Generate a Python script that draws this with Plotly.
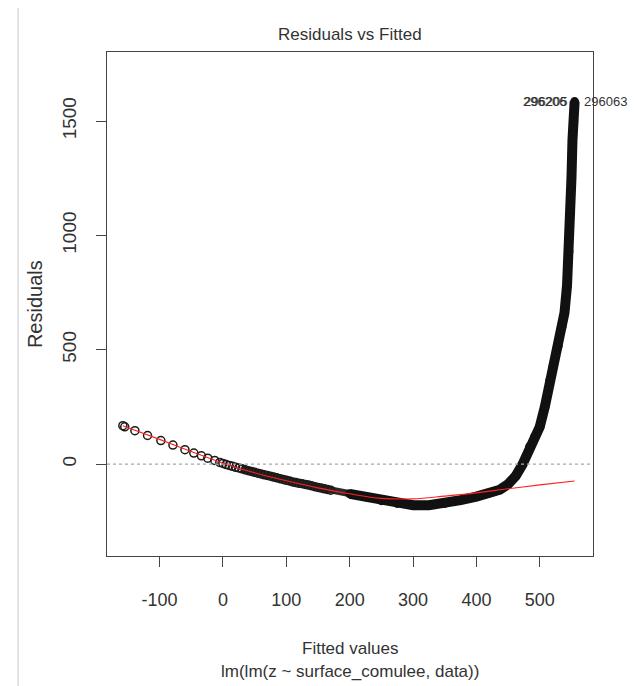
import plotly.graph_objects as go

# Residuals vs Fitted diagnostic for lm(z ~ surface_comulee, data)

# sparse / moderately dense observations (drawn as open circles)
fit_sparse = [-158, -155, -139, -119, -98, -79, -60, -46, -34, -24, -13, -5,
              0, 5, 10, 15, 20, 25, 30, 35, 40, 45, 50, 55, 60, 65, 70, 75,
              80, 85, 90, 95, 100, 105, 110, 115, 120, 125, 130, 135, 140,
              145, 150, 155, 160, 165, 170]
res_sparse = [168, 163, 146, 125, 103, 83, 63, 48, 36, 26, 16, 7,
              3, -2, -6, -10, -14, -17, -21, -25, -29, -32, -36, -40, -43, -47,
              -50, -53, -57, -60, -64, -67, -71, -74, -78, -81, -84, -86, -89,
              -92, -95, -99, -102, -105, -108, -111, -114]

# dense band of overlapping observations (lower stretch)
fit_band_a = [30, 50, 70, 90, 110, 130, 150, 175, 200, 225, 250]
res_band_a = [-21, -36, -50, -64, -78, -89, -102, -118, -130, -143, -158]

# dense band of overlapping observations (upper stretch)
fit_band_b = [200, 225, 250, 275, 300, 325, 350, 375, 400, 420, 437, 450, 462,
              473, 484, 492, 500, 508, 516, 521, 529, 535, 539, 543, 546,
              548.5, 550, 551.6, 553.5, 555]
res_band_b = [-130, -143, -160, -172, -180, -180, -172, -158, -142, -127, -112,
              -88, -52, 0, 76, 120, 163, 251, 367, 428, 516, 600, 662, 780,
              930, 1097, 1250, 1417, 1500, 1585]

# lowess smoother
fit_smooth = [-158, -100, -50, 0, 50, 100, 150, 200, 250, 300, 350, 400,
              450, 500, 555]
res_smooth = [168, 108, 55, 4, -38, -73, -104, -130, -150, -152, -140,
              -126, -108, -91, -74]

# labelled observations
lab_fit = [555, 555, 555]
lab_res = [1585, 1585, 1585]
lab_ids = ["296206", "296205", "296063"]

x_ticks = [-100, 0, 100, 200, 300, 400, 500]
y_ticks = [0, 500, 1000, 1500]

FONT = "Liberation Sans, Arial, Helvetica, sans-serif"
INK = "#1a1a1a"
TXT = "#333"

fig = go.Figure()

fig.add_trace(go.Scatter(
    x=fit_band_a, y=res_band_a, mode="lines",
    line=dict(color="#2a2a2a", width=7), hoverinfo="skip", showlegend=False))

fig.add_trace(go.Scatter(
    x=fit_band_b, y=res_band_b, mode="lines+markers",
    line=dict(color="#111", width=10),
    marker=dict(color="#111", size=9, symbol="circle"),
    hoverinfo="skip", showlegend=False))

fig.add_trace(go.Scatter(
    x=fit_sparse, y=res_sparse, mode="markers",
    marker=dict(symbol="circle-open", size=8, color=INK, line=dict(width=1.5)),
    hoverinfo="skip", showlegend=False))

fig.add_trace(go.Scatter(
    x=fit_smooth, y=res_smooth, mode="lines",
    line=dict(color="#ff2020", width=1.1, shape="spline"),
    hoverinfo="skip", showlegend=False))

# point identifiers: first two to the left, last to the right
shifts = [-7, -6, 7]
anchors = ["right", "right", "left"]
for fx, ry, t, s, a in zip(lab_fit, lab_res, lab_ids, shifts, anchors):
    fig.add_annotation(x=fx, y=ry, text=t, showarrow=False, xanchor=a,
                       yanchor="middle", xshift=s,
                       font=dict(family=FONT, size=13, color=TXT))

# captions
fig.add_annotation(xref="paper", yref="paper", x=0.5, y=1.034,
                   text="Residuals vs Fitted", showarrow=False,
                   xanchor="center", yanchor="middle",
                   font=dict(family=FONT, size=17, color=TXT))
fig.add_annotation(xref="paper", yref="paper", x=0.5, y=-0.183,
                   text="Fitted values", showarrow=False,
                   xanchor="center", yanchor="middle",
                   font=dict(family=FONT, size=17, color=TXT))
fig.add_annotation(xref="paper", yref="paper", x=0.5, y=-0.23,
                   text="lm(lm(z ~ surface_comulee, data))", showarrow=False,
                   xanchor="center", yanchor="middle",
                   font=dict(family=FONT, size=17, color=TXT))
fig.add_annotation(xref="paper", yref="paper", x=-0.148, y=0.5,
                   text="Residuals", showarrow=False, textangle=-90,
                   xanchor="center", yanchor="middle",
                   font=dict(family=FONT, size=20, color=TXT))

# zero reference line
fig.add_shape(type="line", xref="paper", yref="y", x0=0, x1=1, y0=0, y1=0,
              line=dict(color="#a8a8a8", width=1.2, dash="dot"))

# thin frame line at the far left of the page
fig.add_shape(type="line", xref="paper", yref="paper",
              x0=-0.183, x1=-0.183, y0=1.087, y1=-0.26,
              line=dict(color="#c8c8c8", width=1))

axis_common = dict(showline=True, mirror=True, linecolor="#444", linewidth=1,
                   ticks="outside", ticklen=10, tickwidth=1, tickcolor="#444",
                   showgrid=False, zeroline=False,
                   tickfont=dict(family=FONT, size=18, color=TXT))

fig.update_xaxes(range=[-183, 584], tickvals=x_ticks,
                 ticktext=[str(v) for v in x_ticks],
                 ticklabelstandoff=17, **axis_common)
fig.update_yaxes(range=[-402, 1802], tickvals=y_ticks,
                 ticktext=[str(v) for v in y_ticks], tickangle=-90,
                 ticklabelstandoff=12, **axis_common)
fig.update_yaxes(tickfont=dict(family=FONT, size=19, color=TXT))

fig.update_layout(
    width=638, height=686,
    margin=dict(l=107, r=45, t=52, b=130),
    paper_bgcolor="white", plot_bgcolor="white",
    showlegend=False, hovermode=False,
)

fig.write_html("out.html", config={"displayModeBar": False})
